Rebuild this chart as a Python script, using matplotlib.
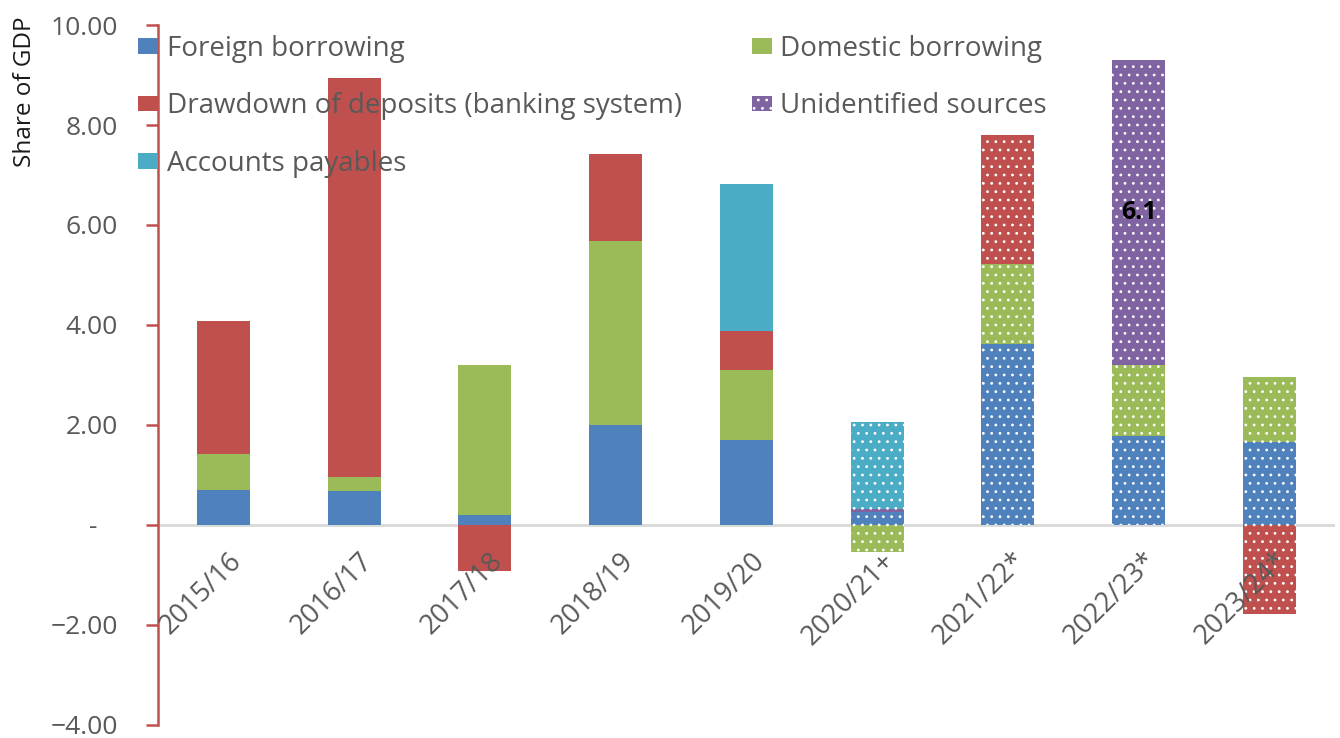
import matplotlib.pyplot as plt
from matplotlib.transforms import offset_copy
import numpy as np

plt.rcParams['font.family'] = ['Open Sans', 'DejaVu Sans']
plt.rcParams['hatch.linewidth'] = 0.8

years = ['2015/16', '2016/17', '2017/18', '2018/19', '2019/20',
         '2020/21+', '2021/22*', '2022/23*', '2023/24*']
foreign = [0.70, 0.68, 0.20, 2.00, 1.70, 0.25, 3.62, 1.78, 1.65]
domestic = [0.72, 0.27, 3.00, 3.68, 1.40, -0.55, 1.60, 1.42, 1.30]
drawdown = [2.65, 8.00, -0.93, 1.75, 0.78, 0.00, 2.58, 0.00, -1.78]
unidentified = [0, 0, 0, 0, 0, 0.07, 0, 6.10, 0]
payables = [0, 0, 0, 0, 2.95, 1.73, 0, 0, 0]
projected = [False] * 5 + [True] * 4

series = [
    ('Foreign borrowing', foreign, '#4F81BD'),
    ('Domestic borrowing', domestic, '#9BBB59'),
    ('Drawdown of deposits (banking system)', drawdown, '#C0504D'),
    ('Unidentified sources', unidentified, '#8064A2'),
    ('Accounts payables', payables, '#4BACC6'),
]

fig = plt.figure(figsize=(13.4, 7.38), dpi=100)
ax = fig.add_axes([0.118, 0.018, 0.878, 0.948])

x = np.arange(len(years))
pos_base = np.zeros(len(years))
neg_base = np.zeros(len(years))
handles = {}
for name, vals, color in series:
    vals = np.array(vals, dtype=float)
    bottoms = np.where(vals >= 0, pos_base, neg_base)
    first = None
    for i in range(len(years)):
        if vals[i] == 0:
            continue
        if first is None:
            first = i
        if projected[i]:
            ax.bar(x[i], vals[i], 0.405, bottom=bottoms[i], color=color,
                   edgecolor='white', linewidth=0, hatch='..')
        else:
            ax.bar(x[i], vals[i], 0.405, bottom=bottoms[i], color=color,
                   linewidth=0)
    pos_base += np.where(vals > 0, vals, 0)
    neg_base += np.where(vals < 0, vals, 0)
    # legend swatch looks like the first bar of the series
    if projected[first]:
        handles[name] = plt.Rectangle((0, 0), 1, 1, facecolor=color,
                                      edgecolor='white', linewidth=0, hatch='..')
    else:
        handles[name] = plt.Rectangle((0, 0), 1, 1, facecolor=color, linewidth=0)

# label on the unidentified sources bar
i = 7
ax.text(x[i], foreign[i] + domestic[i] + unidentified[i] / 2,
        f'{unidentified[i]:.1f}', ha='center', va='center',
        fontsize=18, fontweight='bold', color='black')

ax.set_xlim(-0.5, len(years) - 0.5)
ax.set_ylim(-4, 10)
ax.set_yticks(np.arange(-4, 10.1, 2))
ax.set_yticklabels(['\u22124.00', '\u22122.00', '-   ', '2.00', '4.00',
                    '6.00', '8.00', '10.00'])
ax.axhline(0, color='#D9D9D9', linewidth=2, zorder=0)

for s in ['top', 'right', 'bottom']:
    ax.spines[s].set_visible(False)
ax.spines['left'].set_color('#C0504D')
ax.spines['left'].set_linewidth(1.8)
ax.tick_params(axis='y', colors='#C0504D', labelcolor='#595959',
               labelsize=19, length=9, width=1.8, pad=20)

# category labels hang just below the zero line, rotated 45 degrees
ax.set_xticks(x)
ax.set_xticklabels([])
ax.tick_params(axis='x', length=0)
lab_tr = offset_copy(ax.transData, fig=fig, x=4, y=-22, units='dots')
for xi, yr in zip(x, years):
    ax.text(xi, 0, yr, transform=lab_tr, rotation=45, rotation_mode='anchor',
            ha='right', va='top', fontsize=19.5, color='#595959')

ax.set_ylabel('Share of GDP', fontsize=17.5, color='#1a1a1a')
ax.yaxis.set_label_coords(-0.103, 0.905)

order = ['Foreign borrowing', 'Drawdown of deposits (banking system)',
         'Accounts payables', 'Domestic borrowing', 'Unidentified sources']
ax.legend([handles[k] for k in order], order, ncol=2, frameon=False,
          loc='upper left', bbox_to_anchor=(-0.017, 0.986), borderpad=0,
          borderaxespad=0, fontsize=20, labelcolor='#595959',
          handlelength=0.72, handleheight=0.5, handletextpad=0.32,
          columnspacing=2.5, labelspacing=1.06)

fig.savefig('out.png', dpi=100)
